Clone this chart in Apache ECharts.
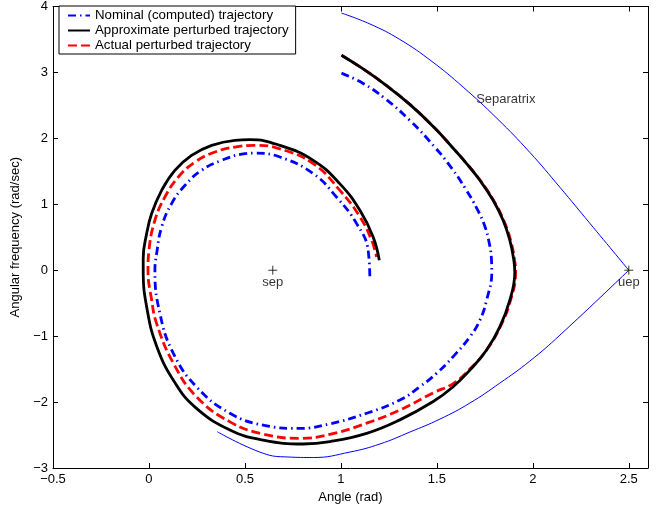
<!DOCTYPE html>
<html>
<head>
<meta charset="utf-8">
<script src="https://cdn.jsdelivr.net/npm/echarts@6/dist/echarts.min.js"></script>
<style>html,body{margin:0;padding:0;background:#fff}#c{width:661px;height:510px}</style>
</head>
<body>
<div id="c"></div>
<script>
// Data
var xTicks = [-0.5, 0, 0.5, 1, 1.5, 2, 2.5];
var yTicks = [-3, -2, -1, 0, 1, 2, 3, 4];

var nominal = [[1.003,2.989],[1.116,2.833],[1.229,2.606],[1.359,2.273],[1.49,1.864],[1.578,1.545],[1.651,1.227],[1.708,0.939],[1.75,0.667],[1.773,0.409],[1.784,0.182],[1.786,-0.03],[1.759,-0.455],[1.724,-0.76],[1.672,-1.01],[1.585,-1.31],[1.498,-1.565],[1.411,-1.768],[1.307,-1.97],[1.134,-2.17],[0.943,-2.33],[0.786,-2.40],[0.595,-2.35],[0.422,-2.17],[0.248,-1.77],[0.127,-1.26],[0.057,-0.656],[0.031,0.0],[0.04,0.253],[0.066,0.656],[0.118,1.01],[0.188,1.288],[0.274,1.515],[0.379,1.667],[0.5,1.768],[0.552,1.777],[0.682,1.717],[0.856,1.465],[0.977,1.11],[1.082,0.707],[1.142,0.30],[1.151,-0.15]];

var approx = [[1.003,3.261],[1.116,3.053],[1.229,2.818],[1.359,2.515],[1.49,2.152],[1.583,1.856],[1.656,1.614],[1.724,1.364],[1.793,1.061],[1.845,0.758],[1.88,0.455],[1.901,0.152],[1.906,-0.03],[1.88,-0.455],[1.828,-0.86],[1.759,-1.21],[1.672,-1.515],[1.585,-1.768],[1.481,-1.992],[1.307,-2.27],[1.134,-2.475],[0.943,-2.60],[0.804,-2.636],[0.595,-2.576],[0.422,-2.424],[0.24,-2.076],[0.133,-1.697],[0.044,-1.182],[-0.008,-0.621],[-0.03,0.0],[-0.03,0.177],[-0.012,0.556],[0.014,0.859],[0.066,1.212],[0.135,1.515],[0.222,1.742],[0.327,1.894],[0.448,1.97],[0.526,1.98],[0.682,1.894],[0.856,1.667],[0.995,1.31],[1.099,0.909],[1.168,0.505],[1.2,0.15]];

var actual = [[1.003,3.261],[1.116,3.053],[1.229,2.818],[1.359,2.515],[1.49,2.152],[1.583,1.856],[1.656,1.614],[1.726,1.364],[1.795,1.061],[1.848,0.758],[1.884,0.455],[1.905,0.152],[1.91,-0.03],[1.884,-0.455],[1.83,-0.86],[1.759,-1.21],[1.672,-1.5],[1.585,-1.72],[1.481,-1.86],[1.307,-2.12],[1.134,-2.32],[0.943,-2.49],[0.786,-2.55],[0.595,-2.485],[0.422,-2.30],[0.248,-1.92],[0.127,-1.41],[0.04,-0.81],[0.014,-0.45],[-0.005,0.0],[0.0,0.303],[0.031,0.758],[0.083,1.11],[0.153,1.414],[0.24,1.641],[0.344,1.793],[0.448,1.868],[0.552,1.894],[0.682,1.84],[0.856,1.616],[0.995,1.21],[1.099,0.81],[1.16,0.455],[1.186,0.2]];

var sepUpper = [[1.003,3.9],[1.151,3.735],[1.307,3.5],[1.474,3.167],[1.637,2.777],[1.813,2.303],[1.984,1.788],[2.141,1.258],[2.297,0.712],[2.5,0]];
var sepLower = [[2.5,0],[2.141,-0.985],[1.984,-1.379],[1.828,-1.712],[1.672,-2.015],[1.516,-2.258],[1.359,-2.455],[1.203,-2.636],[1.047,-2.758],[0.856,-2.841],[0.724,-2.833],[0.595,-2.777],[0.356,-2.45]];

var equilibria = [{name:'sep', value:[0.645,0]},{name:'uep', value:[2.5,0]}];
var notes = [{name:'Separatrix', value:[1.859,2.59]}];

var seriesNames = ['Nominal (computed) trajectory','Approximate perturbed trajectory','Actual perturbed trajectory'];

var FONT = '"Liberation Sans", Arial, Helvetica, sans-serif';
var FS = 13;
function fmt(v){
  var ok = xTicks.concat(yTicks).some(function(t){return Math.abs(t-v)<1e-9;});
  if(!ok) return '';
  return String(v).replace('-', '\u2212');
}
var chart = echarts.init(document.getElementById('c'));
var tick = {show:true, inside:true, length:5, lineStyle:{color:'#000',width:1}};
var axLine = {show:true, onZero:false, lineStyle:{color:'#000',width:1}};
var SM = 0.45;
chart.setOption({
  animation:false,
  backgroundColor:'#fff',
  textStyle:{fontFamily:FONT},
  grid:{left:53, right:13, top:6, bottom:42, containLabel:false},
  legend:{
    data:seriesNames, orient:'vertical', left:59, top:6,
    padding:[2,7,1,8], itemGap:0, itemWidth:22, itemHeight:15,
    borderColor:'#000', borderWidth:1, backgroundColor:'#fff',
    itemStyle:{color:'rgba(0,0,0,0)', borderWidth:0, opacity:0},
    textStyle:{fontFamily:FONT, fontSize:13.3, lineHeight:15, color:'#000'}
  },
  xAxis:[
    {type:'value', min:-0.5, max:2.6, interval:0.5, position:'bottom',
     name:'Angle (rad)', nameLocation:'middle', nameGap:20,
     nameTextStyle:{fontFamily:FONT, fontSize:FS, color:'#000'},
     axisLine:axLine, axisTick:tick, splitLine:{show:false},
     axisLabel:{formatter:fmt, fontFamily:FONT, fontSize:FS, color:'#000', margin:5}},
    {type:'value', min:-0.5, max:2.6, interval:0.5, position:'top',
     axisLine:axLine, axisTick:tick, splitLine:{show:false}, axisLabel:{show:false}}
  ],
  yAxis:[
    {type:'value', min:-3, max:4, interval:1, position:'left',
     name:'Angular frequency (rad/sec)', nameLocation:'middle', nameGap:26,
     nameTextStyle:{fontFamily:FONT, fontSize:FS, color:'#000'},
     axisLine:axLine, axisTick:tick, splitLine:{show:false},
     axisLabel:{formatter:fmt, fontFamily:FONT, fontSize:FS, color:'#000', margin:5}},
    {type:'value', min:-3, max:4, interval:1, position:'right',
     axisLine:axLine, axisTick:tick, splitLine:{show:false}, axisLabel:{show:false}}
  ],
  series:[
    {name:'Separatrix', type:'line', data:sepUpper, smooth:SM, symbol:'none',
     lineStyle:{color:'#0000ff', width:1}, z:1},
    {name:'Separatrix', type:'line', data:sepLower, smooth:SM, symbol:'none',
     lineStyle:{color:'#0000ff', width:1}, z:1},
    {name:seriesNames[1], type:'line', data:approx, smooth:SM, symbol:'none',
     lineStyle:{color:'#000000', width:2.8}, z:3},
    {name:seriesNames[2], type:'line', data:actual, smooth:SM, symbol:'none',
     lineStyle:{color:'#ff0000', width:2.8, type:[9,4]}, z:2},
    {name:seriesNames[0], type:'line', data:nominal, smooth:SM, symbol:'none',
     lineStyle:{color:'#0000ff', width:2.8, type:[8,4,1.5,4]}, z:4},
    {name:'eq', type:'scatter', data:equilibria, symbol:'path://M5,0L5,10M0,5L10,5', symbolSize:9,
     itemStyle:{color:'rgba(0,0,0,0)', borderColor:'#000', borderWidth:1}, z:5,
     label:{show:true, position:'bottom', distance:1, formatter:'{b}', fontFamily:FONT, fontSize:FS, color:'#000'}},
    {name:'note', type:'scatter', data:notes, symbolSize:0, z:5,
     label:{show:true, position:'inside', formatter:'{b}', fontFamily:FONT, fontSize:FS, color:'#000'}}
  ]
});
</script>
</body>
</html>
